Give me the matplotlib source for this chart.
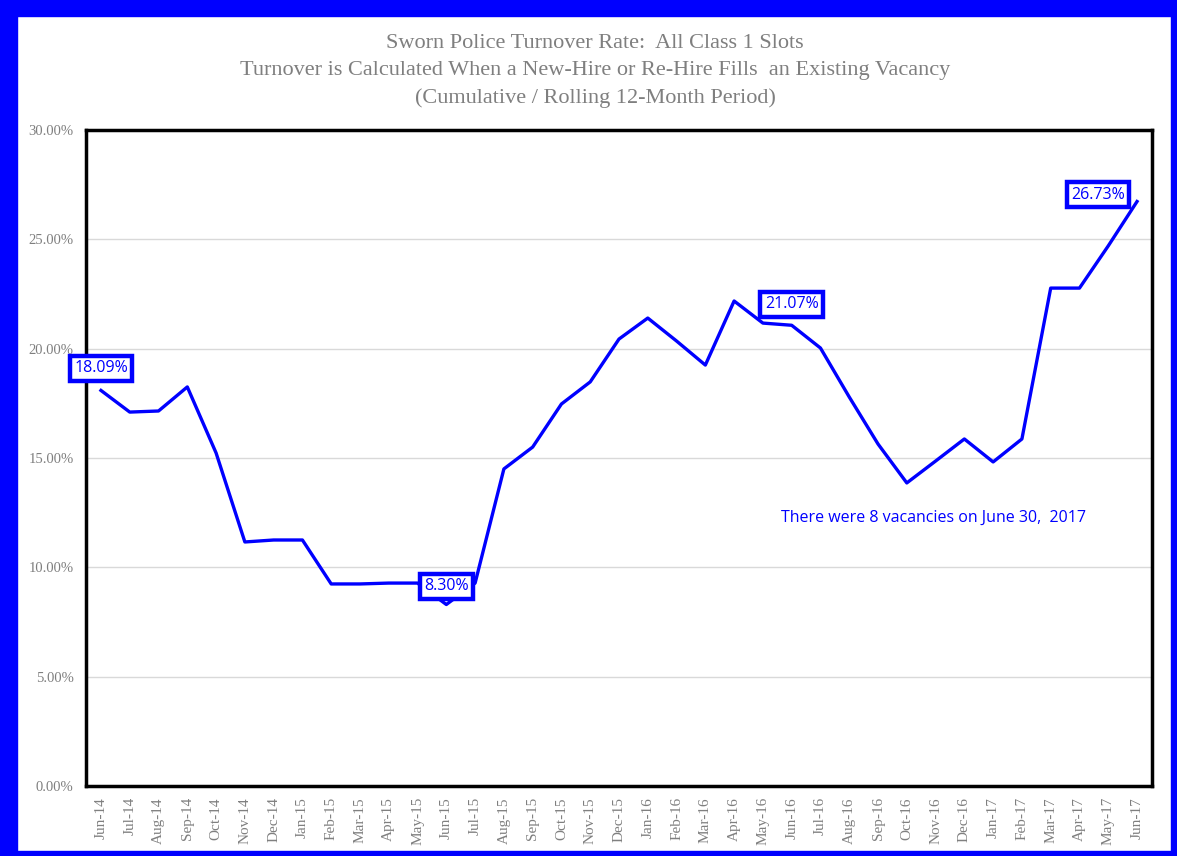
import matplotlib.pyplot as plt
import matplotlib.patches as mpatches
from matplotlib.ticker import FuncFormatter

# Data: turnover rate (%) by month
months = ['Jun-14', 'Jul-14', 'Aug-14', 'Sep-14', 'Oct-14', 'Nov-14', 'Dec-14',
          'Jan-15', 'Feb-15', 'Mar-15', 'Apr-15', 'May-15', 'Jun-15', 'Jul-15',
          'Aug-15', 'Sep-15', 'Oct-15', 'Nov-15', 'Dec-15', 'Jan-16', 'Feb-16',
          'Mar-16', 'Apr-16', 'May-16', 'Jun-16', 'Jul-16', 'Aug-16', 'Sep-16',
          'Oct-16', 'Nov-16', 'Dec-16', 'Jan-17', 'Feb-17', 'Mar-17', 'Apr-17',
          'May-17', 'Jun-17']
rates = [18.09, 17.10, 17.15, 18.25, 15.23, 11.16, 11.25, 11.25, 9.24, 9.24,
         9.28, 9.28, 8.30, 9.28, 14.50, 15.50, 17.47, 18.48, 20.44, 21.40,
         20.35, 19.25, 22.18, 21.17, 21.07, 20.03, 17.79, 15.64, 13.86, 14.86,
         15.87, 14.82, 15.87, 22.77, 22.77, 24.70, 26.73]

# labelled points: (index, text offset in points)
callouts = {0: (0, 16), 12: (0, 13), 24: (0, 15), 36: (-28, 5)}

blue = '#0000FF'
gray = '#7f7f7f'

fig = plt.figure(figsize=(11.77, 8.56), dpi=100)

# blue frame around the whole picture
fig.patches.append(mpatches.Rectangle((0, 0), 17 / 1177, 1, transform=fig.transFigure, color=blue, zorder=0))
fig.patches.append(mpatches.Rectangle((0, 1 - 16 / 856), 1, 16 / 856, transform=fig.transFigure, color=blue, zorder=0))
fig.patches.append(mpatches.Rectangle((1 - 6 / 1177, 0), 6 / 1177, 1, transform=fig.transFigure, color=blue, zorder=0))
fig.patches.append(mpatches.Rectangle((0, 0), 1, 5 / 856, transform=fig.transFigure, color=blue, zorder=0))

ax = fig.add_axes([86 / 1177, 1 - 786 / 856, (1152 - 86) / 1177, (786 - 130) / 856])

x = list(range(len(months)))
ax.plot(x, rates, color=blue, lw=2.4, zorder=3)

ax.set_xlim(-0.52, len(months) - 0.48)
ax.set_ylim(0, 30)
ax.set_yticks([0, 5, 10, 15, 20, 25, 30])
ax.yaxis.set_major_formatter(FuncFormatter(lambda v, p: f'{v:.2f}%'))
ax.set_xticks(x)
ax.set_xticklabels(months, rotation=90)
ax.tick_params(axis='both', length=0, colors=gray)
ax.tick_params(axis='y', pad=9, labelsize=10.5)
ax.tick_params(axis='x', pad=8, labelsize=11)
for lab in ax.get_xticklabels() + ax.get_yticklabels():
    lab.set_family('Liberation Serif')
ax.grid(axis='y', color='#d9d9d9', lw=1)
ax.set_axisbelow(True)
for s in ax.spines.values():
    s.set_linewidth(2.5)
    s.set_color('black')

for i, off in callouts.items():
    ax.annotate(f'{rates[i]:.2f}%', (i, rates[i]), xytext=off, textcoords='offset points',
                ha='center', va='center', color=blue, fontsize=11.5, family='Open Sans',
                bbox=dict(boxstyle='square,pad=0.28', fc='white', ec=blue, lw=3.2), zorder=5)

ax.text(28.94, 12.25, 'There were 8 vacancies on June 30,  2017', color=blue,
        fontsize=11.5, family='Open Sans', ha='center', va='center')

title = ('Sworn Police Turnover Rate:  All Class 1 Slots\n'
         'Turnover is Calculated When a New-Hire or Re-Hire Fills  an Existing Vacancy\n'
         '(Cumulative / Rolling 12-Month Period)')
fig.text(595 / 1177, 1 - 71 / 856, title, ha='center', va='center', color=gray,
         family='Liberation Serif', fontsize=16, linespacing=1.55)

fig.savefig('out.png', dpi=100)
